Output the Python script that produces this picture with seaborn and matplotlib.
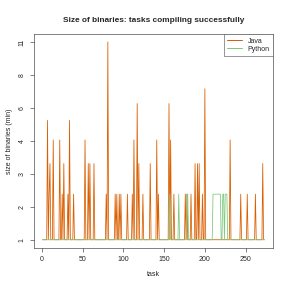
import numpy as np
import pandas as pd
import matplotlib
matplotlib.use("Agg")
import matplotlib.pyplot as plt
import seaborn as sns

# --- data: binary size relative to the smallest one, per task ---
# every task sits at 1 (the minimum) except the ones listed here
N_TASKS = 273
java_tasks = [7, 9, 10, 14, 22, 25, 27, 32, 34, 39,
              53, 57, 59, 64, 79, 81, 90,
              92, 95, 97, 105, 111, 113, 117, 119, 124, 133,
              141, 143, 156, 158, 162, 176, 178, 183, 188,
              191, 193, 197, 200, 231,
              244, 252, 262, 271]
java_sizes = [5, 2, 3, 4, 4, 2, 3, 2, 5, 2,
              4, 3, 3, 3, 2, 11, 2,
              2, 2, 2, 2, 2, 4, 6, 3, 2, 3,
              4, 2, 6, 4, 2, 2, 2, 2, 3,
              3, 3, 2, 7, 4,
              2, 2, 2, 3]
python_tasks = [157, 168, 178, 179,
                210, 211, 212, 213, 214, 215, 216, 217, 218, 219,
                222, 223, 225, 226, 227]
python_sizes = [2, 2, 2, 2,
                2, 2, 2, 2, 2, 2, 2, 2, 2, 2,
                2, 2, 2, 2, 2]

COLORS = {"Java": "#D95F02", "Python": "#7FC97F"}

tasks = np.arange(1, N_TASKS + 1)
java = pd.Series(1.0, index=tasks)
java[java_tasks] = java_sizes
python = pd.Series(1.0, index=tasks)
python[python_tasks] = python_sizes

df = pd.concat([
    pd.DataFrame({"task": tasks, "size": java.values, "language": "Java"}),
    pd.DataFrame({"task": tasks, "size": python.values, "language": "Python"}),
])

sns.set_theme(style="ticks")
plt.rcParams["font.family"] = ["Liberation Sans", "DejaVu Sans"]

fig = plt.figure(figsize=(291 / 72, 291 / 72), dpi=72)
ax = fig.add_axes([0.116, 0.149, 0.823, 0.734])

# y axis is drawn on a fourth-root scale
ax.set_yscale("function", functions=(lambda v: np.power(np.clip(v, 0, None), 0.25),
                                     lambda v: np.power(v, 4)))

sns.lineplot(data=df, x="task", y="size", hue="language", palette=COLORS,
             estimator=None, linewidth=0.8, ax=ax)

ax.margins(x=0.04, y=0.04)

yt = np.linspace(1, df["size"].max() ** 0.25, 7) ** 4
ax.set_yticks(yt)
ax.set_yticklabels([f"{v:.0f}" for v in yt], rotation=90, va="center")
ax.minorticks_off()
ax.set_xticks([0, 50, 100, 150, 200, 250])

ax.tick_params(labelsize=7, length=4, width=0.6, pad=4, color="#333333")
for s in ax.spines.values():
    s.set_linewidth(0.6)
    s.set_color("#333333")

ax.set_title("Size of binaries: tasks compiling successfully",
             fontsize=8.2, fontweight="bold", pad=12)
ax.set_xlabel("task", fontsize=7, labelpad=8)
ax.set_ylabel("size of binaries (min)", fontsize=7, labelpad=6)

leg = ax.legend(loc="upper right", borderaxespad=0, fontsize=7,
                fancybox=False, framealpha=1, edgecolor="#555555",
                handlelength=2.1, borderpad=0.5, labelspacing=0.15)
leg.get_frame().set_linewidth(0.6)
for line in leg.get_lines():
    line.set_linewidth(1.0)

fig.savefig("out.png", dpi=72)
